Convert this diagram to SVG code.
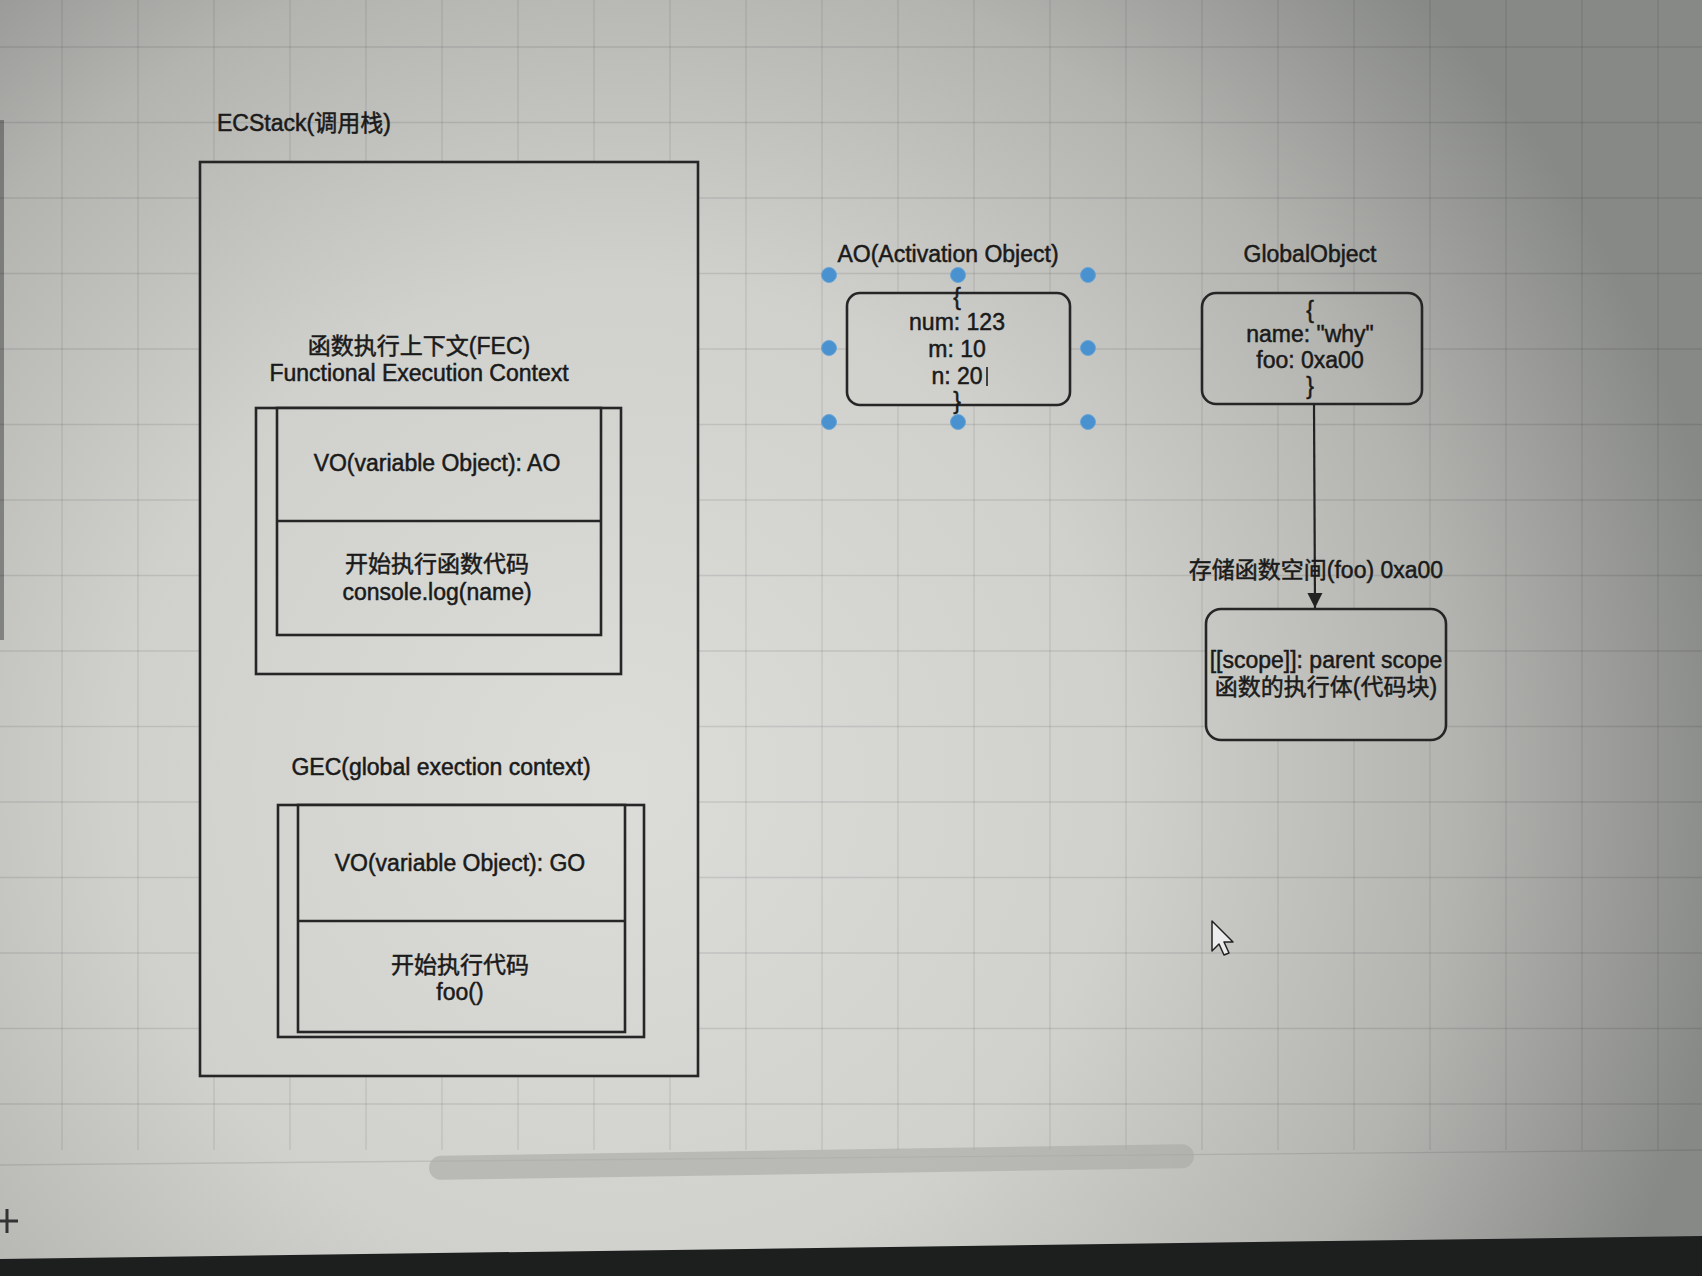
<svg xmlns="http://www.w3.org/2000/svg" width="1702" height="1276" viewBox="0 0 1702 1276">
<defs>
<radialGradient id="bg" gradientUnits="userSpaceOnUse" cx="620" cy="780" r="1120">
<stop offset="0" stop-color="#dcddd9"/>
<stop offset="0.45" stop-color="#d0d1cd"/>
<stop offset="0.75" stop-color="#b3b4b0"/>
<stop offset="1" stop-color="#878986"/>
</radialGradient>
<marker id="arrow" viewBox="0 0 10 10" refX="10" refY="5" markerWidth="15" markerHeight="17" markerUnits="userSpaceOnUse" orient="auto">
<path d="M0,0 L10,5 L0,10 Z" fill="#222"/>
</marker>
<style>
.grid line{stroke:#000;stroke-opacity:0.095;stroke-width:1.3}
.box{fill:url(#bg);stroke:#262626;stroke-width:2.6}
.ln{stroke:#262626;stroke-width:2.6;fill:none}
.t{font-family:"Liberation Sans","Noto Sans CJK SC",sans-serif;font-size:23px;fill:#1a1a1a;stroke:#1a1a1a;stroke-width:0.5;text-anchor:middle}
.handle{fill:#4a91cf;stroke:#6aa6d8;stroke-width:1}
</style>
</defs>

<!-- background -->
<rect x="0" y="0" width="1702" height="1276" fill="url(#bg)"/>
<rect x="0" y="120" width="4" height="520" fill="#555755" opacity="0.6"/>

<g class="grid">
<line x1="62" y1="0" x2="62" y2="1150"/><line x1="138" y1="0" x2="138" y2="1150"/><line x1="214" y1="0" x2="214" y2="1150"/><line x1="290" y1="0" x2="290" y2="1150"/><line x1="366" y1="0" x2="366" y2="1150"/><line x1="442" y1="0" x2="442" y2="1150"/><line x1="518" y1="0" x2="518" y2="1150"/><line x1="594" y1="0" x2="594" y2="1150"/><line x1="670" y1="0" x2="670" y2="1150"/><line x1="746" y1="0" x2="746" y2="1150"/><line x1="822" y1="0" x2="822" y2="1150"/><line x1="898" y1="0" x2="898" y2="1150"/><line x1="974" y1="0" x2="974" y2="1150"/><line x1="1050" y1="0" x2="1050" y2="1150"/><line x1="1126" y1="0" x2="1126" y2="1150"/><line x1="1202" y1="0" x2="1202" y2="1150"/><line x1="1278" y1="0" x2="1278" y2="1150"/><line x1="1354" y1="0" x2="1354" y2="1150"/><line x1="1430" y1="0" x2="1430" y2="1150"/><line x1="1506" y1="0" x2="1506" y2="1150"/><line x1="1582" y1="0" x2="1582" y2="1150"/><line x1="1658" y1="0" x2="1658" y2="1150"/>
<line x1="0" y1="47" x2="1702" y2="47"/><line x1="0" y1="122.5" x2="1702" y2="122.5"/><line x1="0" y1="198" x2="1702" y2="198"/><line x1="0" y1="273.5" x2="1702" y2="273.5"/><line x1="0" y1="349" x2="1702" y2="349"/><line x1="0" y1="424.5" x2="1702" y2="424.5"/><line x1="0" y1="500" x2="1702" y2="500"/><line x1="0" y1="575.5" x2="1702" y2="575.5"/><line x1="0" y1="651" x2="1702" y2="651"/><line x1="0" y1="726.5" x2="1702" y2="726.5"/><line x1="0" y1="802" x2="1702" y2="802"/><line x1="0" y1="877.5" x2="1702" y2="877.5"/><line x1="0" y1="953" x2="1702" y2="953"/><line x1="0" y1="1028.5" x2="1702" y2="1028.5"/><line x1="0" y1="1104" x2="1702" y2="1104"/><line x1="0" y1="1165" x2="1702" y2="1150"/>
</g>

<!-- ECStack -->
<g id="ecstack">
<rect class="box" x="200" y="162" width="498" height="914"/>
<text class="t" x="217" y="131" style="text-anchor:start">ECStack(调用栈)</text>
</g>

<!-- FEC -->
<g id="fec">
<text class="t" x="419" y="354">函数执行上下文(FEC)</text>
<text class="t" x="419" y="381">Functional Execution Context</text>
<rect class="box" x="256" y="408" width="365" height="266"/>
<rect class="box" x="277" y="408" width="324" height="227"/>
<line class="ln" x1="277" y1="521" x2="601" y2="521"/>
<text class="t" x="437" y="471">VO(variable Object): AO</text>
<text class="t" x="437" y="572">开始执行函数代码</text>
<text class="t" x="437" y="600">console.log(name)</text>
</g>

<!-- GEC -->
<g id="gec">
<text class="t" x="441" y="775">GEC(global exection context)</text>
<rect class="box" x="278" y="805" width="366" height="232"/>
<rect class="box" x="298" y="805" width="327" height="227"/>
<line class="ln" x1="298" y1="921" x2="625" y2="921"/>
<text class="t" x="460" y="871">VO(variable Object): GO</text>
<text class="t" x="460" y="973">开始执行代码</text>
<text class="t" x="460" y="1000">foo()</text>
</g>

<!-- AO -->
<g id="ao">
<text class="t" x="948" y="262">AO(Activation Object)</text>
<rect class="box" x="847" y="293" width="223" height="112" rx="13"/>
<text class="t" x="957" y="305">{</text>
<text class="t" x="957" y="330">num: 123</text>
<text class="t" x="957" y="357">m: 10</text>
<text class="t" x="957" y="384">n: 20</text>
<line x1="987" y1="367" x2="987" y2="386" stroke="#1d1d1d" stroke-width="1.6"/>
<text class="t" x="957" y="409">}</text>
<circle class="handle" cx="829" cy="275" r="7.5"/>
<circle class="handle" cx="958" cy="275" r="7.5"/>
<circle class="handle" cx="1088" cy="275" r="7.5"/>
<circle class="handle" cx="829" cy="348" r="7.5"/>
<circle class="handle" cx="1088" cy="348" r="7.5"/>
<circle class="handle" cx="829" cy="422" r="7.5"/>
<circle class="handle" cx="958" cy="422" r="7.5"/>
<circle class="handle" cx="1088" cy="422" r="7.5"/>
</g>

<!-- GlobalObject -->
<g id="globalobject">
<text class="t" x="1310" y="262">GlobalObject</text>
<rect class="box" x="1202" y="293" width="220" height="111" rx="14"/>
<text class="t" x="1310" y="318">{</text>
<text class="t" x="1310" y="342">name: "why"</text>
<text class="t" x="1310" y="368">foo: 0xa00</text>
<text class="t" x="1310" y="394">}</text>
</g>

<!-- function object -->
<g id="funcobj">
<rect class="box" x="1206" y="609" width="240" height="131" rx="15"/>
<text class="t" x="1326" y="668">[[scope]]: parent scope</text>
<text class="t" x="1326" y="695">函数的执行体(代码块)</text>
</g>

<!-- connectors -->
<g id="connectors">
<line x1="1314" y1="404" x2="1315" y2="608" stroke="#222" stroke-width="2.2" marker-end="url(#arrow)"/>
<text class="t" x="1316" y="578">存储函数空间(foo) 0xa00</text>
</g>

<!-- screen extras -->
<path d="M1212,921 L1212,951 L1219,944 L1224,955 L1229,953 L1224,942 L1233,942 Z" fill="#ececec" stroke="#222" stroke-width="1.5" stroke-linejoin="round"/>
<rect x="429" y="1150" width="765" height="24" rx="12" fill="#a8a9a5" opacity="0.6" transform="rotate(-0.9 811 1162)"/>
<line x1="0" y1="1221" x2="18" y2="1221" stroke="#333" stroke-width="3"/>
<line x1="7" y1="1209" x2="7" y2="1233" stroke="#333" stroke-width="3"/>
<polygon points="0,1259 1702,1236 1702,1276 0,1276" fill="#1c1f1e"/>
</svg>
